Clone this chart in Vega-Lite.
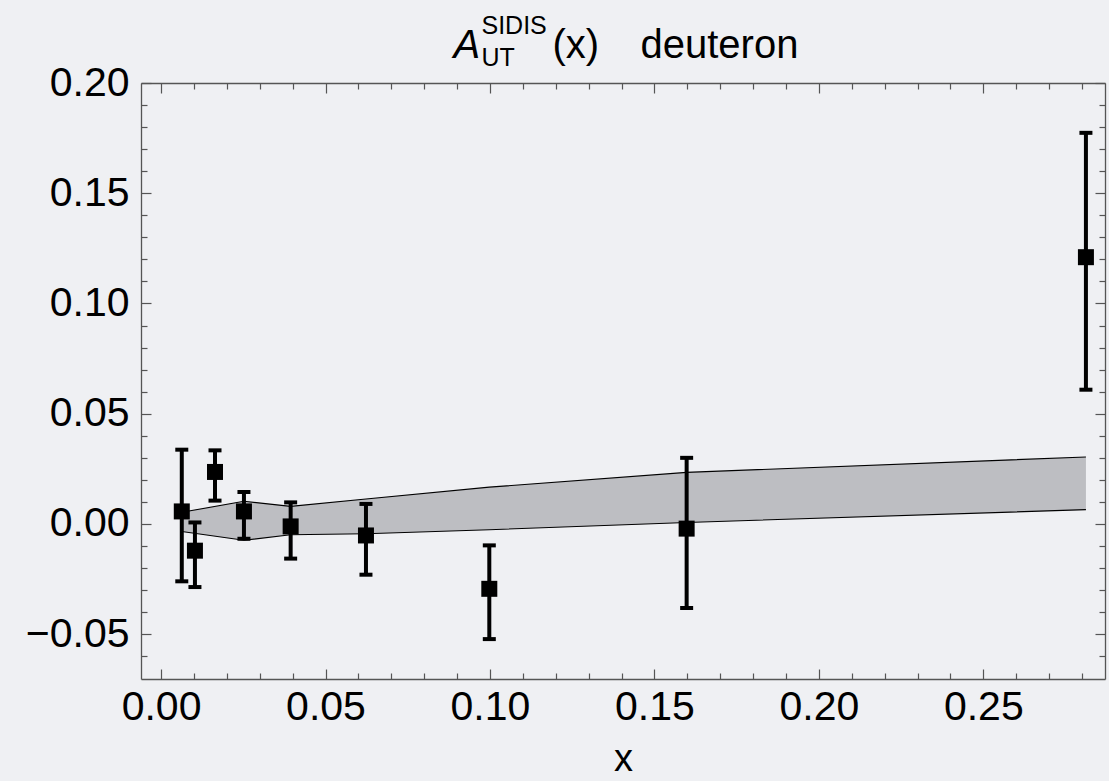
{
  "$schema": "https://vega.github.io/schema/vega-lite/v6.json",
  "autosize": "none",
  "width": 964,
  "height": 596,
  "padding": {"left": 141, "top": 83, "right": 4, "bottom": 102},
  "background": "#eff0f3",
  "config": {
    "view": {"stroke": null},
    "font": "Liberation Sans",
    "axis": {
      "grid": false,
      "domainColor": "#555555",
      "domainWidth": 1.3,
      "tickColor": "#555555",
      "tickWidth": 1.2,
      "labelFont": "Liberation Sans",
      "labelFontSize": 41,
      "labelColor": "#000000",
      "labelOverlap": false,
      "labelFlush": false,
      "labelBound": false,
      "titleFont": "Liberation Sans",
      "titleColor": "#000000",
      "titleFontWeight": "normal",
      "titleAngle": 0,
      "titleAlign": "left",
      "titleBaseline": "alphabetic",
      "titleAnchor": null
    }
  },
  "datasets": {
    "pts": [
      {"x": 0.0063, "y": 0.0057, "lo": -0.026, "hi": 0.0337},
      {"x": 0.0103, "y": -0.0121, "lo": -0.0286, "hi": 0.0007},
      {"x": 0.0164, "y": 0.0236, "lo": 0.0106, "hi": 0.0334},
      {"x": 0.0252, "y": 0.0057, "lo": -0.0067, "hi": 0.0145},
      {"x": 0.0394, "y": -0.0011, "lo": -0.0157, "hi": 0.0098},
      {"x": 0.0623, "y": -0.0052, "lo": -0.023, "hi": 0.0091},
      {"x": 0.0998, "y": -0.0294, "lo": -0.0522, "hi": -0.0097},
      {"x": 0.1598, "y": -0.0021, "lo": -0.0381, "hi": 0.030},
      {"x": 0.2812, "y": 0.121, "lo": 0.0609, "hi": 0.1774}
    ],
    "band": [
      {"x": 0.0063, "lower": -0.0034, "upper": 0.0053},
      {"x": 0.0252, "lower": -0.0074, "upper": 0.0103},
      {"x": 0.0394, "lower": -0.0049, "upper": 0.0080},
      {"x": 0.0623, "lower": -0.0044, "upper": 0.0113},
      {"x": 0.0998, "lower": -0.0026, "upper": 0.0167},
      {"x": 0.1598, "lower": 0.0007, "upper": 0.0234},
      {"x": 0.2812, "lower": 0.0065, "upper": 0.0304}
    ]
  },
  "resolve": {"axis": {"x": "independent", "y": "independent"}},
  "layer": [
    {
      "data": {"name": "band"},
      "mark": {"type": "area", "color": "#bdbec2", "opacity": 1},
      "encoding": {
        "x": {"field": "x", "type": "quantitative", "scale": {"domain": [-0.0061, 0.287], "nice": false, "zero": false},
          "axis": {"orient": "bottom", "values": [0, 0.05, 0.1, 0.15, 0.2, 0.25], "format": ".2f", "tickSize": -10, "labelPadding": 18,
            "title": "x", "titleFontSize": 38, "titleAlign": "center", "titleX": 482, "titleY": 91}},
        "y": {"field": "lower", "type": "quantitative", "scale": {"domain": [-0.0703, 0.2], "nice": false, "zero": false},
          "axis": {"orient": "left", "values": [-0.05, 0, 0.05, 0.1, 0.15, 0.2], "format": ".2f", "tickSize": -10, "labelPadding": 22, "title": null}},
        "y2": {"field": "upper"}
      }
    },
    {
      "mark": {"type": "rule", "color": "#000000", "strokeWidth": 1.2},
      "encoding": {
        "y": {"datum": 0, "type": "quantitative", "scale": {"domain": [-0.0703, 0.2], "nice": false, "zero": false}, "axis": null}
      }
    },
    {
      "data": {"name": "band"},
      "mark": {"type": "line", "color": "#000000", "strokeWidth": 1.1},
      "encoding": {
        "x": {"field": "x", "type": "quantitative", "scale": {"domain": [-0.0061, 0.287], "nice": false, "zero": false},
          "axis": {"orient": "bottom", "values": [0.01, 0.02, 0.03, 0.04, 0.06, 0.07, 0.08, 0.09, 0.11, 0.12, 0.13, 0.14, 0.16, 0.17, 0.18, 0.19, 0.21, 0.22, 0.23, 0.24, 0.26, 0.27, 0.28], "labels": false, "domain": false, "tickSize": -6, "title": null}},
        "y": {"field": "upper", "type": "quantitative", "scale": {"domain": [-0.0703, 0.2], "nice": false, "zero": false},
          "axis": {"orient": "left", "values": [-0.06, -0.04, -0.03, -0.02, -0.01, 0.01, 0.02, 0.03, 0.04, 0.06, 0.07, 0.08, 0.09, 0.11, 0.12, 0.13, 0.14, 0.16, 0.17, 0.18, 0.19], "labels": false, "domain": false, "tickSize": -6,
            "title": "UT", "titleFontSize": 25, "titleX": 340, "titleY": -18}}
      }
    },
    {
      "data": {"name": "band"},
      "mark": {"type": "line", "color": "#000000", "strokeWidth": 1.1},
      "encoding": {
        "x": {"field": "x", "type": "quantitative", "scale": {"domain": [-0.0061, 0.287], "nice": false, "zero": false},
          "axis": {"orient": "top", "values": [0, 0.05, 0.1, 0.15, 0.2, 0.25], "labels": false, "tickSize": -10,
            "title": "A", "titleFontSize": 40, "titleFontStyle": "italic", "titleX": 312, "titleY": -26}},
        "y": {"field": "lower", "type": "quantitative", "scale": {"domain": [-0.0703, 0.2], "nice": false, "zero": false},
          "axis": {"orient": "right", "values": [-0.05, 0, 0.05, 0.1, 0.15, 0.2], "labels": false, "tickSize": -10,
            "title": "(x)", "titleFontSize": 40, "titleX": -553, "titleY": -26}}
      }
    },
    {
      "data": {"name": "pts"},
      "mark": {"type": "rule", "color": "#000000", "strokeWidth": 4},
      "encoding": {
        "x": {"field": "x", "type": "quantitative", "scale": {"domain": [-0.0061, 0.287], "nice": false, "zero": false},
          "axis": {"orient": "top", "values": [0.01, 0.02, 0.03, 0.04, 0.06, 0.07, 0.08, 0.09, 0.11, 0.12, 0.13, 0.14, 0.16, 0.17, 0.18, 0.19, 0.21, 0.22, 0.23, 0.24, 0.26, 0.27, 0.28], "labels": false, "domain": false, "tickSize": -6,
            "title": "SIDIS", "titleFontSize": 25, "titleX": 340, "titleY": -50}},
        "y": {"field": "lo", "type": "quantitative", "scale": {"domain": [-0.0703, 0.2], "nice": false, "zero": false},
          "axis": {"orient": "right", "values": [-0.06, -0.04, -0.03, -0.02, -0.01, 0.01, 0.02, 0.03, 0.04, 0.06, 0.07, 0.08, 0.09, 0.11, 0.12, 0.13, 0.14, 0.16, 0.17, 0.18, 0.19], "labels": false, "domain": false, "tickSize": -6,
            "title": "deuteron", "titleFontSize": 40, "titleX": -465, "titleY": -26}},
        "y2": {"field": "hi"}
      }
    },
    {
      "data": {"name": "pts"},
      "mark": {"type": "tick", "color": "#000000", "orient": "horizontal", "size": 13, "thickness": 4, "opacity": 1},
      "encoding": {
        "x": {"field": "x", "type": "quantitative", "scale": {"domain": [-0.0061, 0.287], "nice": false, "zero": false}, "axis": null},
        "y": {"field": "lo", "type": "quantitative", "scale": {"domain": [-0.0703, 0.2], "nice": false, "zero": false}, "axis": null}
      }
    },
    {
      "data": {"name": "pts"},
      "mark": {"type": "tick", "color": "#000000", "orient": "horizontal", "size": 13, "thickness": 4, "opacity": 1},
      "encoding": {
        "x": {"field": "x", "type": "quantitative", "scale": {"domain": [-0.0061, 0.287], "nice": false, "zero": false}, "axis": null},
        "y": {"field": "hi", "type": "quantitative", "scale": {"domain": [-0.0703, 0.2], "nice": false, "zero": false}, "axis": null}
      }
    },
    {
      "data": {"name": "pts"},
      "mark": {"type": "square", "color": "#000000", "filled": true, "opacity": 1, "size": 256},
      "encoding": {
        "x": {"field": "x", "type": "quantitative", "scale": {"domain": [-0.0061, 0.287], "nice": false, "zero": false}, "axis": null},
        "y": {"field": "y", "type": "quantitative", "scale": {"domain": [-0.0703, 0.2], "nice": false, "zero": false}, "axis": null}
      }
    }
  ]
}
